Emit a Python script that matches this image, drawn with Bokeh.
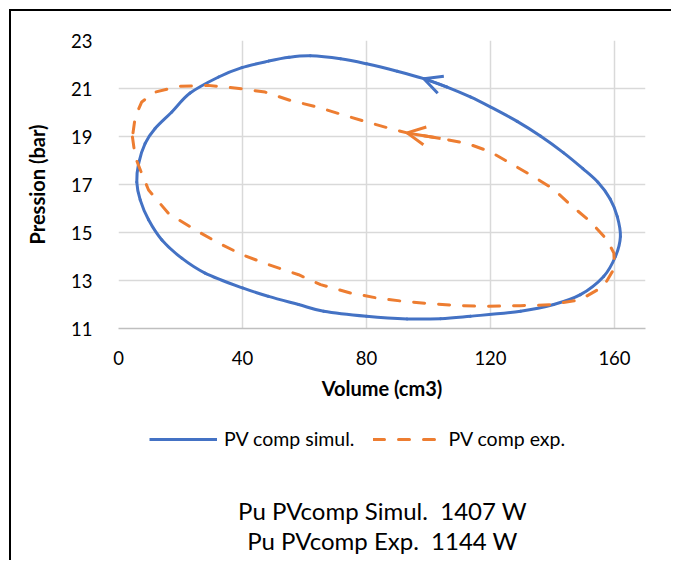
from bokeh.plotting import figure
from bokeh.layouts import column
from bokeh.models import Legend, LegendItem, Label, Arrow, OpenHead, Range1d, FixedTicker
from bokeh.embed import file_html
from bokeh.resources import INLINE

# ---- data ----
vol_simul = [5.9, 7.0, 9.7, 14.0, 20.4, 27.9, 40.0, 48.4, 58.1, 66.2, 80.0, 93.1, 103.9, 113.5,
             129.7, 140.4, 149.0, 156.5, 160.3, 161.9, 160.9, 158.6, 154.6, 149.8, 143.6, 136.1,
             128.6, 120.0, 113.5, 106.0, 98.5, 89.9, 80.0, 71.6, 61.9, 55.0, 48.4, 39.8, 32.3,
             23.1, 17.2, 11.8, 8.6, 6.5, 5.9]
p_simul = [17.1, 16.36, 15.53, 14.69, 13.93, 13.31, 12.69, 12.34, 12.0, 11.72, 11.51, 11.4, 11.41, 11.51,
           11.72, 12.0, 12.41, 13.17, 14.0, 14.83, 15.66, 16.4, 17.1, 17.66, 18.32, 19.02,
           19.63, 20.23, 20.65, 21.06, 21.41, 21.72, 22.03, 22.24, 22.36, 22.3, 22.14, 21.87, 21.48,
           20.81, 20.02, 19.33, 18.71, 17.88, 17.1]

vol_exp = [4.5, 5.4, 7.5, 9.7, 16.1, 24.7, 32.3, 40.0, 48.4, 58.1, 65.2, 74.8, 83.4, 92.0, 101.7,
           111.4, 117.8, 129.7, 139.4, 149.0, 156.5, 160.0, 159.8, 157.6, 152.3, 145.8, 140.4,
           134.0, 126.5, 120.0, 112.5, 103.9, 93.1, 87.7, 80.0, 72.7, 64.1, 55.5, 47.3, 39.8,
           29.0, 19.4, 11.8, 7.5, 5.4, 4.5]
p_exp = [18.98, 18.15, 17.46, 16.77, 15.8, 15.11, 14.56, 14.07, 13.66, 13.24, 12.83, 12.48, 12.27, 12.13, 12.02,
         11.95, 11.92, 11.95, 11.99, 12.2, 12.76, 13.52, 14.14, 14.69, 15.45, 16.15, 16.8,
         17.32, 17.88, 18.36, 18.71, 18.92, 19.15, 19.33, 19.61, 19.89, 20.23, 20.5, 20.85, 20.99,
         21.13, 21.09, 20.85, 20.44, 19.82, 18.98]

x_ticks = [0, 40, 80, 120, 160]
y_ticks = [11, 13, 15, 17, 19, 21, 23]
series_names = ["PV comp simul.", "PV comp exp."]
power_texts = ["Pu PVcomp Simul.\u00a0\u00a01407 W", "Pu PVcomp Exp.\u00a0\u00a01144 W"]
x_title = "Volume (cm3)"
y_title = "Pression (bar)"
arrow_tip_simul = 30   # index of arrow tip on simul curve
arrow_tip_exp = 32     # index of arrow tip on exp curve

BLUE = "#4472C4"
ORANGE = "#ED7D31"
FONT = "Lato"
W = 660
H1 = 394
H2 = 155


def smooth_segments(xs, ys):
    """Bezier control points (Catmull-Rom style, like a spreadsheet 'smoothed line')
    for a closed loop whose last point repeats the first."""
    m = len(xs) - 1
    out = {k: [] for k in ("x0", "y0", "x1", "y1", "cx0", "cy0", "cx1", "cy1")}
    for a in range(m):
        pa, b, nb = (a - 1) % m, a + 1, (a + 2) % m
        out["x0"].append(xs[a]); out["y0"].append(ys[a])
        out["x1"].append(xs[b]); out["y1"].append(ys[b])
        out["cx0"].append(xs[a] + (xs[b] - xs[pa]) / 6.0)
        out["cy0"].append(ys[a] + (ys[b] - ys[pa]) / 6.0)
        out["cx1"].append(xs[b] - (xs[nb] - xs[a]) / 6.0)
        out["cy1"].append(ys[b] - (ys[nb] - ys[a]) / 6.0)
    return out


# ---------------- main chart ----------------
p = figure(width=W, height=H1, output_backend="svg", toolbar_location=None,
           x_range=Range1d(0, 170), y_range=Range1d(11, 23),
           min_border_left=107, min_border_top=29, min_border_right=26, min_border_bottom=77)
p.outline_line_color = None
p.background_fill_color = "white"
p.border_fill_color = "white"

seg = smooth_segments(vol_simul, p_simul)
p.bezier(x0=seg["x0"], y0=seg["y0"], x1=seg["x1"], y1=seg["y1"],
         cx0=seg["cx0"], cy0=seg["cy0"], cx1=seg["cx1"], cy1=seg["cy1"],
         line_color=BLUE, line_width=3, line_cap="round")
p.line(vol_exp, p_exp, line_color=ORANGE, line_width=3, line_dash="11 14",
       line_cap="round", line_join="round")

i = arrow_tip_simul
p.add_layout(Arrow(end=OpenHead(size=18, line_color=BLUE, line_width=3),
                   x_start=vol_simul[i - 1], y_start=p_simul[i - 1],
                   x_end=vol_simul[i], y_end=p_simul[i], line_color=BLUE, line_width=3))
j = arrow_tip_exp
p.add_layout(Arrow(end=OpenHead(size=18, line_color=ORANGE, line_width=3),
                   x_start=vol_exp[j - 1], y_start=p_exp[j - 1],
                   x_end=vol_exp[j], y_end=p_exp[j], line_color=ORANGE, line_width=3))

p.xaxis.ticker = FixedTicker(ticks=x_ticks)
p.yaxis.ticker = FixedTicker(ticks=y_ticks)
for ax in (p.xaxis[0], p.yaxis[0]):
    ax.major_tick_line_color = None
    ax.minor_tick_line_color = None
    ax.major_label_text_font = FONT
    ax.major_label_text_font_size = "18.5px"
    ax.major_label_text_color = "black"
    ax.axis_label_text_font = FONT
    ax.axis_label_text_font_size = "20px"
    ax.axis_label_text_font_style = "bold"
    ax.axis_label_text_color = "black"
p.xaxis.axis_label = x_title
p.yaxis.axis_label = y_title
p.xaxis.axis_line_color = "#bfbfbf"
p.xaxis.axis_line_width = 1.5
p.yaxis.axis_line_color = None
p.yaxis.major_label_standoff = 20
p.yaxis.axis_label_standoff = 19
p.xaxis.major_label_standoff = 16
p.xaxis.axis_label_standoff = 8

p.xgrid.grid_line_color = "#d9d9d9"
p.ygrid.grid_line_color = "#d9d9d9"
p.xgrid.grid_line_width = 1.5
p.ygrid.grid_line_width = 1.5

# ---------------- legend + power texts panel ----------------
q = figure(width=W, height=H2, output_backend="svg", toolbar_location=None,
           x_range=Range1d(0, 1), y_range=Range1d(0, 1),
           x_axis_location=None, y_axis_location=None,
           min_border_left=0, min_border_right=0, min_border_top=0, min_border_bottom=0)
q.outline_line_color = None
q.xgrid.visible = False
q.ygrid.visible = False
q.background_fill_color = "white"
q.border_fill_color = "white"

# legend entries: same series, styled like the chart (their data lies outside this panel's ranges)
k1 = q.line(vol_simul, p_simul, line_color=BLUE, line_width=3)
k2 = q.line(vol_exp, p_exp, line_color=ORANGE, line_width=3, line_dash="11 14", line_cap="round")

legend = Legend(items=[LegendItem(label=series_names[0], renderers=[k1]),
                       LegendItem(label=series_names[1], renderers=[k2])],
                location=(31, 110), orientation="horizontal",
                glyph_width=68, glyph_height=20, label_standoff=7, spacing=19,
                padding=0, margin=0, border_line_color=None, background_fill_alpha=0,
                label_text_font=FONT, label_text_font_size="19.5px", label_text_color="black")
q.add_layout(legend)

for k, yy in enumerate([50, 20]):
    q.add_layout(Label(x=264, y=yy, x_units="screen", y_units="screen", text=power_texts[k],
                       text_align="center", text_baseline="middle",
                       text_font=FONT, text_font_size="24px", text_color="black"))

layout = column(p, q, spacing=0,
                styles={"margin-left": "9px", "margin-top": "9px",
                        "border-left": "2px solid black", "border-top": "2px solid black"})

open("out.html", "w").write(file_html(layout, INLINE))
